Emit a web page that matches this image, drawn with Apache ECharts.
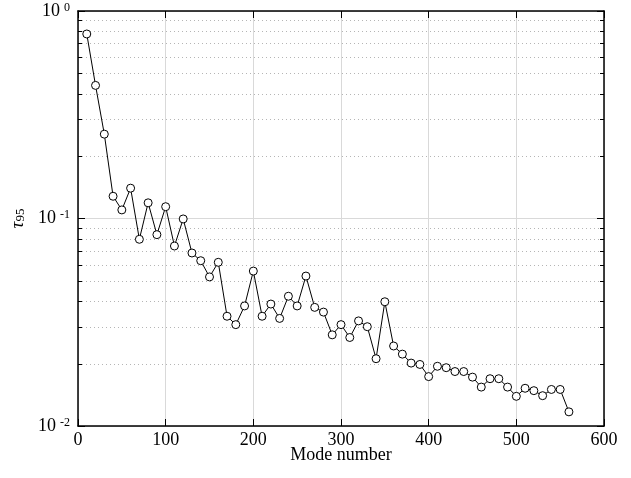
<!DOCTYPE html>
<html><head><meta charset="utf-8">
<script src="https://cdn.jsdelivr.net/npm/echarts@6/dist/echarts.min.js"></script>
<style>html,body{margin:0;padding:0;background:#fff}#c{width:631px;height:478px}</style>
</head><body><div id="c"></div>
<script>
const modes = [10,20,30,40,50,60,70,80,90,100,110,120,130,140,150,160,170,180,190,200,
  210,220,230,240,250,260,270,280,290,300,310,320,330,340,350,360,370,380,390,400,
  410,420,430,440,450,460,470,480,490,500,510,520,530,540,550,560];
const tau95 = [0.775,0.438,0.255,0.128,0.110,0.140,0.0794,0.119,0.0836,0.114,
  0.0737,0.0995,0.0682,0.0626,0.0523,0.0615,0.0338,0.0308,0.0379,0.0558,
  0.0338,0.0387,0.0330,0.0422,0.0379,0.0528,0.0373,0.0354,0.0275,0.0308,
  0.0267,0.0321,0.0301,0.0211,0.0397,0.0243,0.0222,0.0201,0.0198,0.0173,
  0.0194,0.0191,0.0183,0.0183,0.0172,0.0154,0.0169,0.0169,0.0154,0.0139,
  0.0152,0.0148,0.0140,0.0150,0.0150,0.0117];
const xTicks = [0,100,200,300,400,500,600];
const yMinor = [0.02,0.03,0.04,0.05,0.06,0.07,0.08,0.09,0.2,0.3,0.4,0.5,0.6,0.7,0.8,0.9];

const FONT = 'Liberation Serif';
const chart = echarts.init(document.getElementById('c'));
const pts = modes.map((m,i)=>[m,tau95[i]]);
const supRich = {
  b:{fontFamily:FONT,fontSize:18,color:'#000'},
  s:{fontFamily:FONT,fontSize:12,color:'#000',verticalAlign:'top',padding:[0,0,7,4]}
};
chart.setOption({
  animation:false,
  backgroundColor:'#fff',
  grid:{left:77,right:27,top:11,bottom:52,containLabel:false},
  xAxis:[{
    type:'value',min:0,max:600,interval:100,position:'bottom',
    name:'Mode number',nameLocation:'middle',nameGap:20,nameMoveOverlap:false,
    nameTextStyle:{fontFamily:FONT,fontSize:18,color:'#000'},
    axisLine:{show:true,onZero:false,lineStyle:{color:'#000',width:1.5}},
    axisTick:{show:true,inside:true,length:7,lineStyle:{color:'#000',width:1}},
    axisLabel:{fontFamily:FONT,fontSize:18,color:'#000',margin:5},
    splitLine:{show:true,lineStyle:{color:'#d9d9d9',width:1}}
  },{
    type:'value',min:0,max:600,interval:100,position:'top',
    axisLine:{show:true,onZero:false,lineStyle:{color:'#000',width:1.5}},
    axisTick:{show:true,inside:true,length:7,lineStyle:{color:'#000',width:1}},
    axisLabel:{show:false},splitLine:{show:false}
  }],
  yAxis:[{
    type:'log',logBase:10,min:0.01,max:1,position:'left',
    name:'{t|τ}{s|95}',nameLocation:'middle',nameRotate:90,nameGap:51,nameMoveOverlap:false,
    nameTextStyle:{rich:{
      t:{fontFamily:FONT,fontSize:19,fontStyle:'italic',color:'#000'},
      s:{fontFamily:FONT,fontSize:13,color:'#000',verticalAlign:'bottom',padding:[6,0,0,0]}
    }},
    axisLine:{show:true,onZero:false,lineStyle:{color:'#000',width:1.5}},
    axisTick:{show:true,inside:true,length:7,lineStyle:{color:'#000',width:1}},
    axisLabel:{fontFamily:FONT,margin:8,
      formatter:v=>'{b|10}{s|'+Math.round(Math.log10(v))+'}',rich:supRich},
    splitLine:{show:true,lineStyle:{color:'#d9d9d9',width:1}}
  },{
    type:'log',logBase:10,min:0.01,max:1,position:'right',
    axisLine:{show:true,onZero:false,lineStyle:{color:'#000',width:1.5}},
    axisTick:{show:true,inside:true,length:7,lineStyle:{color:'#000',width:1}},
    axisLabel:{show:false},splitLine:{show:false}
  }],
  series:[{
    type:'custom',xAxisIndex:0,yAxisIndex:0,silent:true,z:1,
    data:yMinor.map(v=>[0,v]),
    renderItem:(params,api)=>{
      const v = api.value(1);
      const a = api.coord([0,v]);
      const b = api.coord([600,v]);
      const y = Math.round(a[1])+0.5;
      return {type:'group',children:[
        {type:'line',shape:{x1:a[0],y1:y,x2:b[0],y2:y},
          style:{stroke:'#b5b5b5',lineWidth:1,lineDash:[1,3]}},
        {type:'line',shape:{x1:a[0],y1:y,x2:a[0]+4,y2:y},style:{stroke:'#000',lineWidth:1}},
        {type:'line',shape:{x1:b[0]-4,y1:y,x2:b[0],y2:y},style:{stroke:'#000',lineWidth:1}}
      ]};
    }
  },{
    type:'line',xAxisIndex:0,yAxisIndex:0,data:pts,z:5,
    symbol:'circle',symbolSize:8,showSymbol:true,
    lineStyle:{color:'#000',width:1},
    itemStyle:{color:'#fff',borderColor:'#000',borderWidth:1}
  }]
});
</script></body></html>
